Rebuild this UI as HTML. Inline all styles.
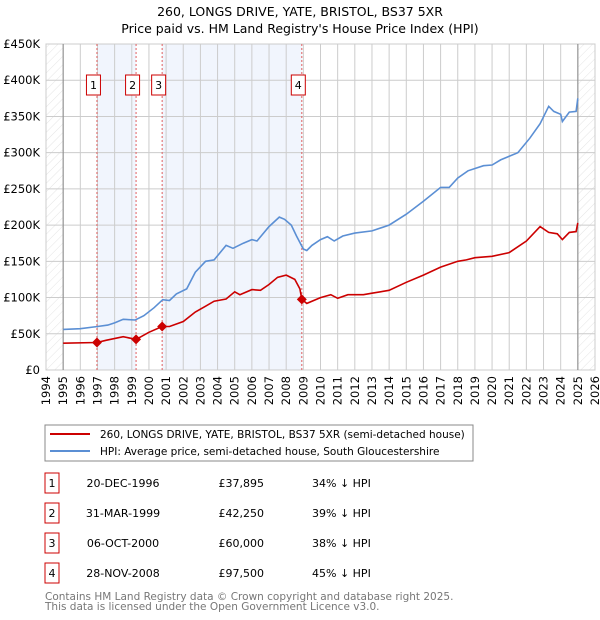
<!DOCTYPE html>
<html><head><meta charset="utf-8">
<style>
body{margin:0;background:#fff;font-family:"DejaVu Sans","Liberation Sans",sans-serif;}
svg{display:block}
</style></head>
<body>
<svg id="c" width="600" height="620" xmlns="http://www.w3.org/2000/svg" font-family="DejaVu Sans, Liberation Sans, sans-serif">
<defs>
<pattern id="hatch" width="6" height="6" patternUnits="userSpaceOnUse" patternTransform="rotate(45)">
<line x1="0" y1="0" x2="0" y2="6" stroke="#ddd" stroke-width="0.8"/>
</pattern>
</defs>
<text x="300" y="16" text-anchor="middle" font-size="12.5">260, LONGS DRIVE, YATE, BRISTOL, BS37 5XR</text>
<text x="300" y="33" text-anchor="middle" font-size="12.5">Price paid vs. HM Land Registry's House Price Index (HPI)</text>
<g id="plot"></g>
<rect x="45" y="425" width="428" height="36" fill="#fff" stroke="#888"/>
<line x1="50" y1="434" x2="90" y2="434" stroke="#cc0000" stroke-width="2"/>
<text x="100" y="438" font-size="10.5">260, LONGS DRIVE, YATE, BRISTOL, BS37 5XR (semi-detached house)</text>
<line x1="50" y1="451" x2="90" y2="451" stroke="#5b8fd4" stroke-width="2"/>
<text x="100" y="455" font-size="10.5">HPI: Average price, semi-detached house, South Gloucestershire</text>
<g id="table" font-size="11"></g>
<text x="45" y="600" font-size="10.5" fill="#777">Contains HM Land Registry data © Crown copyright and database right 2025.</text>
<text x="45" y="610" font-size="10.5" fill="#777">This data is licensed under the Open Government Licence v3.0.</text>
</svg>
<script>
const yearTicks=[1994,1995,1996,1997,1998,1999,2000,2001,2002,2003,2004,2005,2006,2007,2008,2009,2010,2011,2012,2013,2014,2015,2016,2017,2018,2019,2020,2021,2022,2023,2024,2025,2026];
const priceTicks=[0,50,100,150,200,250,300,350,400,450];
const priceTickLabels=["£0","£50K","£100K","£150K","£200K","£250K","£300K","£350K","£400K","£450K"];
const hpiYears=[1995,1996,1997,1997.6,1998,1998.5,1999.2,1999.7,2000.3,2000.8,2001.2,2001.6,2002.2,2002.7,2003.3,2003.8,2004.5,2004.9,2005.5,2006,2006.3,2007,2007.6,2007.9,2008.3,2008.6,2009,2009.2,2009.5,2010,2010.4,2010.8,2011.3,2012,2013,2014,2015,2016,2017,2017.5,2018,2018.6,2019.5,2020,2020.5,2021.5,2022.2,2022.8,2023.3,2023.6,2024,2024.1,2024.5,2024.9,2025];
const hpiValues=[56,57,60,62,65,70,69,75,86,97,96,105,112,135,150,152,172,168,175,180,178,198,211,208,200,185,167,165,172,180,184,178,185,189,192,200,215,233,252,252,265,275,282,283,290,300,320,340,364,357,353,343,356,357,375];
const ppYears=[1995,1996.97,1997.5,1998.5,1999.25,2000,2000.77,2001.2,2002,2002.7,2003.3,2003.8,2004.5,2005,2005.3,2006,2006.5,2007,2007.5,2008,2008.5,2008.8,2008.91,2009.2,2010,2010.6,2011,2011.6,2012.5,2013,2014,2015,2016,2017,2018,2018.5,2019,2020,2021,2022,2022.8,2023.3,2023.8,2024.1,2024.5,2024.9,2025];
const ppValues=[37,37.9,41,46,42.25,52,60,60,67,80,88,95,98,108,104,111,110,118,128,131,125,112,97.5,92,100,104,99,104,104,106,110,121,131,142,150,152,155,157,162,178,198,190,188,180,190,191,203];
const saleYears=[1996.97,1999.25,2000.77,2008.91];
const saleValues=[37.895,42.25,60,97.5];
const saleLabels=["1","2","3","4"];
const saleDates=["20-DEC-1996","31-MAR-1999","06-OCT-2000","28-NOV-2008"];
const salePrices=["£37,895","£42,250","£60,000","£97,500"];
const saleDiffs=["34% ↓ HPI","39% ↓ HPI","38% ↓ HPI","45% ↓ HPI"];

const NS="http://www.w3.org/2000/svg";
const X0=46,X1=595,Y0=370,Y1=44;
const xs=y=>X0+(y-1994)/(2026-1994)*(X1-X0);
const ys=v=>Y0-v/450*(Y0-Y1);
const plot=document.getElementById('plot');
function mk(t,a,p){const e=document.createElementNS(NS,t);for(const k in a)e.setAttribute(k,a[k]);(p||plot).appendChild(e);return e;}
let e;
e=mk('rect',{x:X0,y:Y1,width:X1-X0,height:Y0-Y1,fill:'#fff',stroke:'#ccc'});


[[0,1],[2,3]].forEach(([a,b])=>{
 e=mk('rect',{x:xs(saleYears[a]),y:Y1,width:xs(saleYears[b])-xs(saleYears[a]),height:Y0-Y1,fill:'#eef3fc',opacity:0.8});
 
 
});
e=mk('rect',{x:X0,y:Y1,width:xs(1995)-X0,height:Y0-Y1,fill:'url(#hatch)'});


e=mk('rect',{x:xs(2025),y:Y1,width:X1-xs(2025),height:Y0-Y1,fill:'url(#hatch)'});


yearTicks.forEach(y=>{
 e=mk('line',{x1:xs(y),x2:xs(y),y1:Y1,y2:Y0,stroke:'#ccc','stroke-width':1});
 
 
 e=mk('text',{transform:`translate(${xs(y)+4},${Y0+6}) rotate(-90)`,'text-anchor':'end','font-size':11.5});
 e.textContent=y;
 
 
});
priceTicks.forEach((v,i)=>{
 e=mk('line',{x1:X0,x2:X1,y1:ys(v),y2:ys(v),stroke:'#ccc','stroke-width':1});
 
 
 e=mk('text',{x:40,y:ys(v)+4,'text-anchor':'end','font-size':11.5});
 e.textContent=priceTickLabels[i];
 
 
});
e=mk('line',{x1:xs(1995),x2:xs(1995),y1:Y1,y2:Y0,stroke:'#888'});


e=mk('line',{x1:xs(2025),x2:xs(2025),y1:Y1,y2:Y0,stroke:'#888'});


saleYears.forEach((y,i)=>{
 e=mk('line',{x1:xs(y),x2:xs(y),y1:Y1,y2:Y0,stroke:'#e06060','stroke-dasharray':'2,2','stroke-width':1});
 
 
 const bx=xs(y)-10.5;
 e=mk('rect',{x:bx,y:75,width:14,height:20,fill:'#fff',stroke:'#cc0000'});
 
 
 e=mk('text',{x:bx+7,y:89,'text-anchor':'middle','font-size':11});
 e.textContent=saleLabels[i];
 
 
});
function path(xa,va,col,name){
 const d=xa.map((y,i)=>(i?'L':'M')+xs(y).toFixed(1)+','+ys(va[i]).toFixed(1)).join('');
 e=mk('path',{d,fill:'none',stroke:col,'stroke-width':1.6});
 
 
}
path(hpiYears,hpiValues,'#5b8fd4','hpi-line');
path(ppYears,ppValues,'#cc0000','price-paid-line');
saleYears.forEach((y,i)=>{
 const cx=xs(y),cy=ys(saleValues[i]);
 e=mk('path',{d:`M${cx},${cy-5}L${cx+5},${cy}L${cx},${cy+5}L${cx-5},${cy}Z`,fill:'#cc0000'});
 
 
});
const tb=document.getElementById('table');
saleLabels.forEach((l,i)=>{
 const cy=483+i*30;
 e=mk('rect',{x:45,y:cy-10,width:14,height:20,fill:'#fff',stroke:'#cc0000'},tb);
 
 
 e=mk('text',{x:52,y:cy+4,'text-anchor':'middle'},tb);e.textContent=l;
 
 
 e=mk('text',{x:123,y:cy+4,'text-anchor':'middle'},tb);e.textContent=saleDates[i];
 
 
 e=mk('text',{x:264,y:cy+4,'text-anchor':'end'},tb);e.textContent=salePrices[i];
 
 
 e=mk('text',{x:312,y:cy+4},tb);e.textContent=saleDiffs[i];
 
 
});
</script>
</body></html>
